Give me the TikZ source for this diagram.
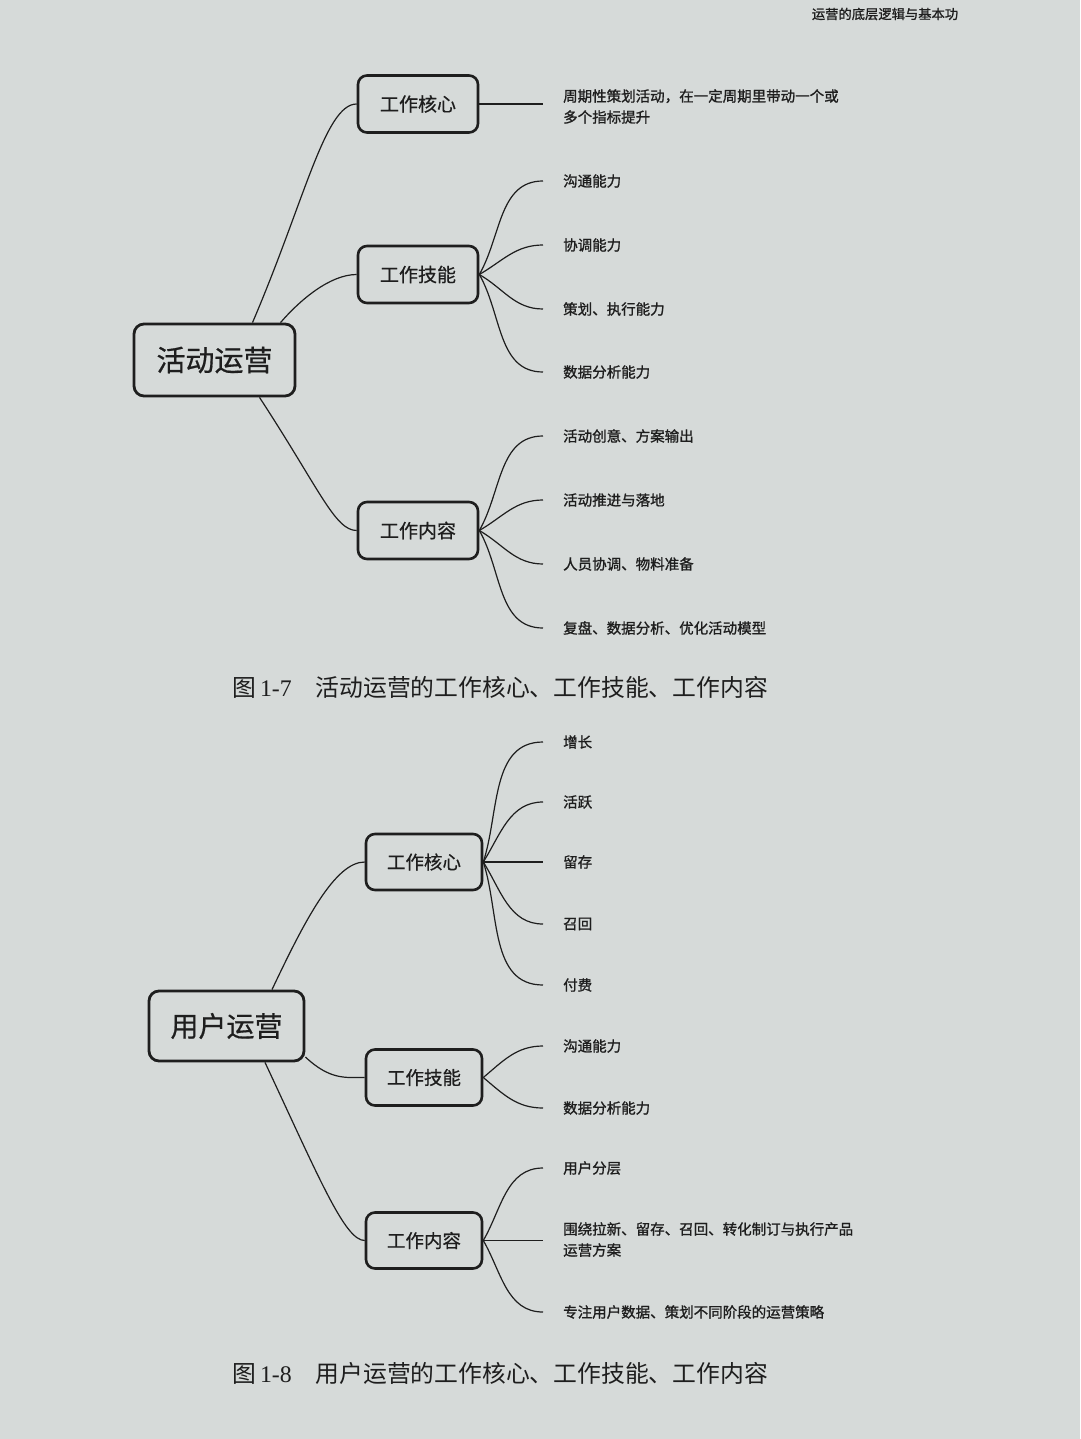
\documentclass[tikz,border=0pt]{standalone}
\usepackage{fontspec}
\setmainfont{Liberation Serif}
\newfontfamily\cjk{Noto Sans CJK SC}
\newfontfamily\cjkb[FakeBold=1.2]{Noto Sans CJK SC}
\newfontfamily\cjkm[FakeBold=0.6]{Noto Sans CJK SC}
\newfontfamily\capnum{Liberation Serif}
\usetikzlibrary{calc}
\definecolor{paper}{RGB}{214,218,217}
\definecolor{ink}{RGB}{30,30,30}
\begin{document}
\begin{tikzpicture}[x=1pt,y=1pt,
  hub/.style={draw=ink, line width=2.8pt, rounded corners=10pt, inner sep=0pt, text=ink, font=\cjkm\fontsize{29}{32}\selectfont},
  mid/.style={draw=ink, line width=2.6pt, rounded corners=9pt, inner sep=0pt, text=ink, font=\cjkm\fontsize{19}{22}\selectfont},
  leaf/.style={anchor=west, inner xsep=20pt, inner ysep=0pt, text=ink, font=\cjkb\fontsize{14.5}{21}\selectfont, align=left},
  link/.style={draw=ink, line width=1.2pt},
  captext/.style={anchor=west, inner sep=0pt, text=ink, font=\cjk\fontsize{23.8}{26}\selectfont}
]
\fill[paper] (0,0) rectangle (1080,-1439);
\useasboundingbox (0,0) rectangle (1080,-1439);

% header
\node[text=ink, inner sep=0pt, font=\cjkb\fontsize{13.3}{15}\selectfont] (H) at (885,-14) {运营的底层逻辑与基本功};

% ---------- Figure 1-7 ----------
\node[hub, minimum width=161pt, minimum height=72pt] (A) at (214.5,-360) {活动运营};
\node[mid, minimum width=120pt, minimum height=57pt] (A1) at (418,-104) {工作核心};
\node[mid, minimum width=120pt, minimum height=57pt] (A2) at (418,-274.5) {工作技能};
\node[mid, minimum width=120pt, minimum height=57pt] (A3) at (418,-530.5) {工作内容};

\draw[link] ([xshift=38pt]A.north) .. controls (305,-200) and (325,-104) .. (A1.west);
\draw[link] ([xshift=66pt]A.north) .. controls (300,-300) and (330,-274.5) .. (A2.west);
\draw[link] ([xshift=45pt]A.south) .. controls (320,-490) and (335,-530.5) .. (A3.west);

\node[leaf] (A1a) at (543,-106.5) {周期性策划活动，在一定周期里带动一个或\\多个指标提升};
\draw[link] (A1.east) -- (A1.east -| A1a.west);

\node[leaf] (A2a) at (543,-181) {沟通能力};
\node[leaf] (A2b) at (543,-245) {协调能力};
\node[leaf] (A2c) at (543,-309) {策划、执行能力};
\node[leaf] (A2d) at (543,-372) {数据分析能力};
\draw[link] (A2.east) to[out=60,in=180] (A2a.west);
\draw[link] (A2.east) to[out=30,in=180] (A2b.west);
\draw[link] (A2.east) to[out=-30,in=180] (A2c.west);
\draw[link] (A2.east) to[out=-60,in=180] (A2d.west);

\node[leaf] (A3a) at (543,-436) {活动创意、方案输出};
\node[leaf] (A3b) at (543,-500) {活动推进与落地};
\node[leaf] (A3c) at (543,-564) {人员协调、物料准备};
\node[leaf] (A3d) at (543,-628) {复盘、数据分析、优化活动模型};
\draw[link] (A3.east) to[out=60,in=180] (A3a.west);
\draw[link] (A3.east) to[out=30,in=180] (A3b.west);
\draw[link] (A3.east) to[out=-30,in=180] (A3c.west);
\draw[link] (A3.east) to[out=-60,in=180] (A3d.west);

\node[captext] (C1) at (232,-687) {图\hspace{4pt}{\capnum 1-7}\hspace{24pt}活动运营的工作核心、工作技能、工作内容};

% ---------- Figure 1-8 ----------
\node[hub, minimum width=155pt, minimum height=70pt, font=\cjkm\fontsize{28}{31}\selectfont] (U) at (226.5,-1026) {用户运营};
\node[mid, minimum width=116pt, minimum height=56pt, font=\cjkm\fontsize{18.5}{21}\selectfont] (U1) at (424,-862) {工作核心};
\node[mid, minimum width=116pt, minimum height=56pt, font=\cjkm\fontsize{18.5}{21}\selectfont] (U2) at (424,-1077.5) {工作技能};
\node[mid, minimum width=116pt, minimum height=56pt, font=\cjkm\fontsize{18.5}{21}\selectfont] (U3) at (424,-1240.5) {工作内容};

\draw[link] ([xshift=45.5pt]U.north) .. controls (305,-920) and (335,-862) .. (U1.west);
\draw[link] ([yshift=-31pt]U.east) .. controls (330,-1080) and (345,-1077.5) .. (U2.west);
\draw[link] ([xshift=38.5pt]U.south) .. controls (320,-1180) and (345,-1240.5) .. (U3.west);

\node[leaf] (U1a) at (543,-742) {增长};
\node[leaf] (U1b) at (543,-802) {活跃};
\node[leaf] (U1c) at (543,-862) {留存};
\node[leaf] (U1d) at (543,-924) {召回};
\node[leaf] (U1e) at (543,-985) {付费};
\draw[link] (U1.east) to[out=72,in=180] (U1a.west);
\draw[link] (U1.east) to[out=58,in=180] (U1b.west);
\draw[link] (U1.east) -- (U1c.west);
\draw[link] (U1.east) to[out=-58,in=180] (U1d.west);
\draw[link] (U1.east) to[out=-72,in=180] (U1e.west);

\node[leaf] (U2a) at (543,-1046) {沟通能力};
\node[leaf] (U2b) at (543,-1108) {数据分析能力};
\draw[link] (U2.east) to[out=40,in=180] (U2a.west);
\draw[link] (U2.east) to[out=-40,in=180] (U2b.west);

\node[leaf] (U3a) at (543,-1168) {用户分层};
\node[leaf] (U3b) at (543,-1239.5) {围绕拉新、留存、召回、转化制订与执行产品\\运营方案};
\node[leaf] (U3c) at (543,-1312) {专注用户数据、策划不同阶段的运营策略};
\draw[link] (U3.east) to[out=60,in=180] (U3a.west);
\draw[link] (U3.east) -- (U3.east -| U3b.west);
\draw[link] (U3.east) to[out=-60,in=180] (U3c.west);

\node[captext] (C2) at (232,-1373) {图\hspace{4pt}{\capnum 1-8}\hspace{24pt}用户运营的工作核心、工作技能、工作内容};
\end{tikzpicture}
\end{document}
